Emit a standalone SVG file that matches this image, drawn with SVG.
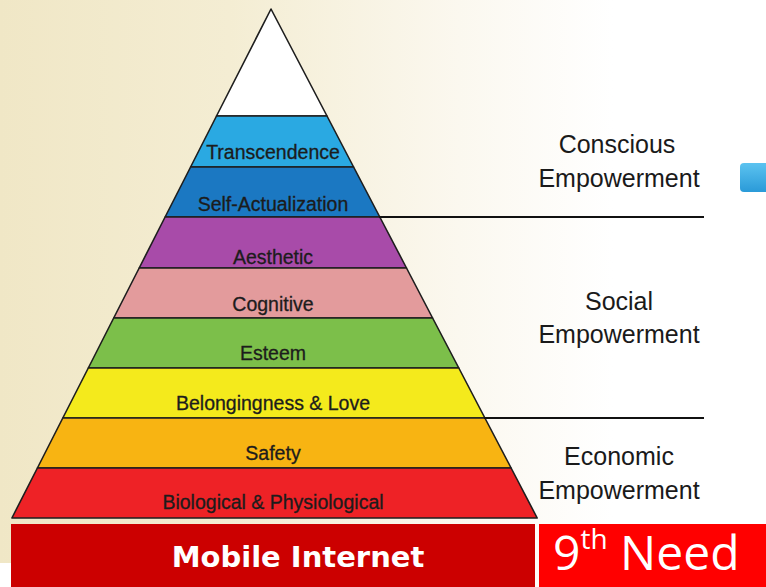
<svg xmlns="http://www.w3.org/2000/svg" width="766" height="587" viewBox="0 0 766 587">
<defs>
<linearGradient id="bg" x1="0" y1="0" x2="1" y2="0">
<stop offset="0" stop-color="#f0e7c6"/>
<stop offset="0.3" stop-color="#f4edd3"/>
<stop offset="0.6" stop-color="#fbf8ef"/>
<stop offset="0.8" stop-color="#ffffff"/>
<stop offset="1" stop-color="#ffffff"/>
</linearGradient>
<linearGradient id="btn" x1="0" y1="0" x2="0" y2="1">
<stop offset="0" stop-color="#5cc3f0"/>
<stop offset="1" stop-color="#2a9ad8"/>
</linearGradient>
<style>
.band{stroke:#1e1e1e;stroke-width:1.6;stroke-linejoin:round}
.lbl{font-family:"Liberation Sans",Arial,sans-serif;font-size:19.5px;fill:#1c1c1c;stroke:#1c1c1c;stroke-width:0.3;text-anchor:middle}
.side{font-family:"Liberation Sans",Arial,sans-serif;font-size:25px;fill:#1a1a1a;text-anchor:middle}
.div{stroke:#111;stroke-width:2.2}
</style>
</defs>
<rect x="0" y="0" width="766" height="587" fill="url(#bg)"/>
<rect x="0" y="563" width="12" height="24" fill="#ffffff"/>
<rect x="740" y="163" width="40" height="29" rx="4" fill="url(#btn)"/>

<g id="apex"><polygon class="band" fill="#ffffff" points="271,9 327,116 216.5,116"/></g>
<g id="transcendence"><polygon class="band" fill="#2aa9e2" points="216.5,116 327,116 353.6,167 190.6,167"/><text class="lbl" x="273" y="159">Transcendence</text></g>
<g id="self-actualization"><polygon class="band" fill="#1b78c2" points="190.6,167 353.6,167 379.8,217 165.1,217"/><text class="lbl" x="273" y="211">Self-Actualization</text></g>
<g id="aesthetic"><polygon class="band" fill="#a84ba9" points="165.1,217 379.8,217 406.5,268 139.2,268"/><text class="lbl" x="273" y="264">Aesthetic</text></g>
<g id="cognitive"><polygon class="band" fill="#e39b9c" points="139.2,268 406.5,268 432.6,318 113.7,318"/><text class="lbl" x="273" y="311">Cognitive</text></g>
<g id="esteem"><polygon class="band" fill="#7cbf4a" points="113.7,318 432.6,318 458.8,368 88.3,368"/><text class="lbl" x="273" y="360">Esteem</text></g>
<g id="belongingness"><polygon class="band" fill="#f4ea1c" points="88.3,368 458.8,368 484.9,418 62.8,418"/><text class="lbl" x="273" y="410">Belongingness &amp; Love</text></g>
<g id="safety"><polygon class="band" fill="#f8b412" points="62.8,418 484.9,418 511.1,468 37.4,468"/><text class="lbl" x="273" y="460">Safety</text></g>
<g id="biological"><polygon class="band" fill="#ee2226" points="37.4,468 511.1,468 537.2,518 11.9,518"/><text class="lbl" x="273" y="509">Biological &amp; Physiological</text></g>

<g id="connectors">
<line class="div" x1="379" y1="217" x2="704" y2="217"/>
<line class="div" x1="484" y1="418" x2="704" y2="418"/>
</g>

<g id="conscious"><text class="side" x="617" y="153">Conscious</text><text class="side" x="619" y="187">Empowerment</text></g>
<g id="social"><text class="side" x="619" y="310">Social</text><text class="side" x="619" y="343">Empowerment</text></g>
<g id="economic"><text class="side" x="619" y="465">Economic</text><text class="side" x="619" y="499">Empowerment</text></g>

<g id="mobile-internet"><rect x="11" y="524" width="524" height="63" fill="#cc0000"/><text x="298" y="567" font-family="'DejaVu Sans','Liberation Sans',sans-serif" font-weight="bold" font-size="29" fill="#ffffff" text-anchor="middle">Mobile Internet</text></g>
<g id="ninth-need"><rect x="539" y="524" width="227" height="63" fill="#ff0000"/><text x="553" y="570" font-family="'Open Sans','Noto Sans',sans-serif" font-size="48" fill="#ffffff">9<tspan font-size="28" dy="-21">th</tspan><tspan dy="21"> Need</tspan></text></g>
</svg>
